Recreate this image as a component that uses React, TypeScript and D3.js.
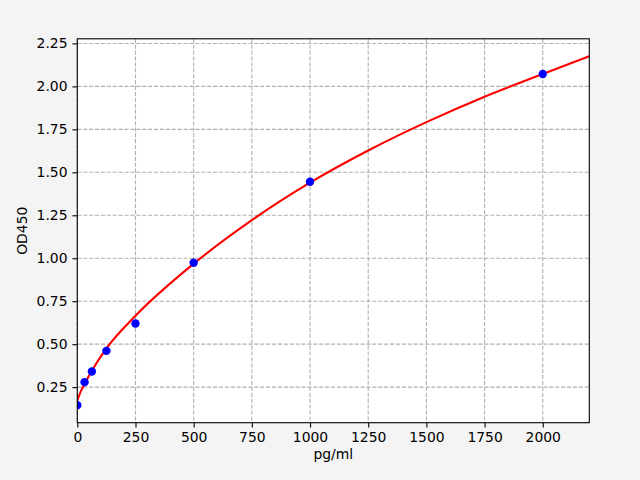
import { useEffect, useRef } from 'react';
import * as d3 from 'd3';

// standards (pg/ml) and measured OD450
const concentrations = [0, 31.25, 62.5, 125, 250, 500, 1000, 2000];
const odValues = [0.145, 0.279, 0.341, 0.461, 0.62, 0.974, 1.445, 2.072];

// fitted curve
const fitX = [0, 15, 31.25, 62.5, 125, 250, 500, 750, 1000, 1250, 1500, 1750, 2000, 2200];
const fitY = [0.172, 0.225, 0.268, 0.345, 0.475, 0.665, 0.968, 1.222, 1.44, 1.627, 1.792, 1.94, 2.072, 2.176];

const xTicks = [0, 250, 500, 750, 1000, 1250, 1500, 1750, 2000];
const yTicks = [0.25, 0.5, 0.75, 1.0, 1.25, 1.5, 1.75, 2.0, 2.25];

const WIDTH = 640;
const HEIGHT = 480;
const margin = { left: 77.3, right: 589.3, top: 38.8, bottom: 422.7 };

export default function App() {
  const svgRef = useRef<SVGSVGElement>(null);

  useEffect(() => {
    if (!svgRef.current) return;
    const svg = d3.select(svgRef.current);
    svg.selectAll('*').remove();

    const font = 'DejaVu Sans, sans-serif';
    const x = d3.scaleLinear().domain([0, 2200]).range([margin.left, margin.right]);
    const y = d3.scaleLinear().domain([0.043, 2.277]).range([margin.bottom, margin.top]);

    svg.append('defs')
      .append('clipPath')
      .attr('id', 'plot-clip')
      .append('rect')
      .attr('x', margin.left)
      .attr('y', margin.top)
      .attr('width', margin.right - margin.left)
      .attr('height', margin.bottom - margin.top);

    svg.append('rect')
      .attr('width', WIDTH)
      .attr('height', HEIGHT)
      .attr('fill', '#f4f4f4');

    svg.append('rect')
      .attr('x', margin.left)
      .attr('y', margin.top)
      .attr('width', margin.right - margin.left)
      .attr('height', margin.bottom - margin.top)
      .attr('fill', '#ffffff');

    // grid
    const grid = svg.append('g')
      .attr('stroke', '#b0b0b0')
      .attr('stroke-width', 1.1)
      .attr('stroke-dasharray', '4.1,1.8');
    xTicks.forEach((t) => {
      grid.append('line')
        .attr('x1', x(t)).attr('x2', x(t))
        .attr('y1', margin.top).attr('y2', margin.bottom);
    });
    yTicks.forEach((t) => {
      grid.append('line')
        .attr('x1', margin.left).attr('x2', margin.right)
        .attr('y1', y(t)).attr('y2', y(t));
    });

    const plot = svg.append('g').attr('clip-path', 'url(#plot-clip)');

    // fitted line
    const line = d3.line<number>()
      .x((d) => x(d))
      .y((_, i) => y(fitY[i]))
      .curve(d3.curveMonotoneX);

    plot.append('path')
      .datum(fitX)
      .attr('d', line)
      .attr('fill', 'none')
      .attr('stroke', '#ff0000')
      .attr('stroke-width', 2.1);

    // points on top of the line
    plot.selectAll('circle')
      .data(concentrations)
      .enter()
      .append('circle')
      .attr('cx', (d) => x(d))
      .attr('cy', (_, i) => y(odValues[i]))
      .attr('r', 4.2)
      .attr('fill', '#0000ff');

    // axes frame
    svg.append('rect')
      .attr('x', margin.left)
      .attr('y', margin.top)
      .attr('width', margin.right - margin.left)
      .attr('height', margin.bottom - margin.top)
      .attr('fill', 'none')
      .attr('stroke', '#000')
      .attr('stroke-width', 1.1);

    const xAxis = d3.axisBottom(x)
      .tickValues(xTicks)
      .tickFormat(d3.format('d'))
      .tickSize(4.9)
      .tickPadding(4.9);
    const gx = svg.append('g')
      .attr('transform', `translate(0,${margin.bottom})`)
      .call(xAxis);

    const yAxis = d3.axisLeft(y)
      .tickValues(yTicks)
      .tickFormat(d3.format('.2f'))
      .tickSize(4.9)
      .tickPadding(4.9);
    const gy = svg.append('g')
      .attr('transform', `translate(${margin.left},0)`)
      .call(yAxis);

    [gx, gy].forEach((g) => {
      g.select('.domain').remove();
      g.selectAll('line').attr('stroke', '#000').attr('stroke-width', 1.1);
      g.selectAll('text')
        .style('font-family', font)
        .style('font-size', '13.9px')
        .attr('fill', '#000');
    });

    svg.append('text')
      .attr('x', (margin.left + margin.right) / 2)
      .attr('y', 459)
      .attr('text-anchor', 'middle')
      .style('font-family', font)
      .style('font-size', '13.9px')
      .text('pg/ml');

    svg.append('text')
      .attr('transform', `translate(26.7,${(margin.top + margin.bottom) / 2}) rotate(-90)`)
      .attr('text-anchor', 'middle')
      .style('font-family', font)
      .style('font-size', '13.9px')
      .text('OD450');
  }, []);

  return (
    <div style={{ position: 'fixed', left: 0, top: 0 }}>
      <svg ref={svgRef} width={WIDTH} height={HEIGHT} style={{ display: 'block' }} />
    </div>
  );
}
